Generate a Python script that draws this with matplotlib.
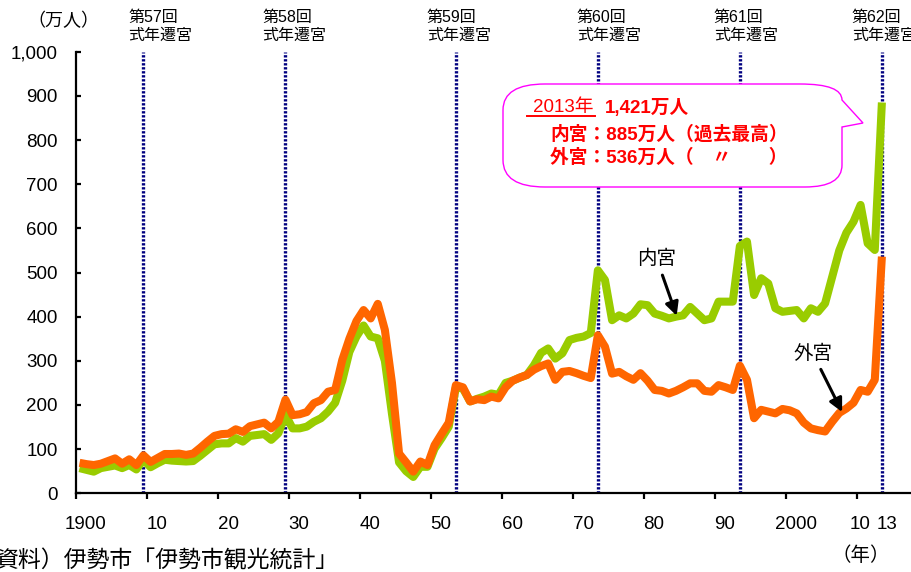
import numpy as np
import matplotlib
matplotlib.use('Agg')
import matplotlib.pyplot as plt
from matplotlib.path import Path
from matplotlib.patches import PathPatch
from matplotlib.lines import Line2D

plt.rcParams['font.family'] = ['Liberation Sans', 'Noto Sans CJK JP']

# visitors per year (万人)
years = np.arange(1900, 2014)
naiku = [57, 53, 49, 57, 60, 63, 57, 64, 54, 76,
         59, 68, 76, 74, 73, 72, 73, 85, 98, 111,
         113, 113, 125, 117, 130, 132, 134, 121, 136, 178,
         147, 147, 151, 162, 170, 185, 205, 255, 320, 355,
         380, 355, 351, 300, 180, 70, 50, 37, 60, 60,
         101, 125, 151, 240, 237, 208, 214, 219, 226, 223,
         250, 255, 262, 268, 290, 318, 328, 305, 317, 347,
         352, 355, 363, 505, 483, 392, 403, 396, 407, 428,
         426, 407, 402, 396, 400, 403, 422, 407, 392, 396,
         434, 434, 434, 560, 570, 449, 487, 475, 419, 411,
         413, 415, 396, 419, 411, 430, 490, 550, 590, 615,
         653, 566, 551, 885]
geku = [69, 66, 64, 67, 73, 79, 67, 77, 64, 86,
        71, 80, 89, 89, 90, 87, 90, 103, 117, 130,
        134, 135, 145, 139, 152, 156, 160, 147, 162, 212,
        177, 179, 184, 204, 211, 230, 234, 302, 350, 390,
        415, 396, 429, 370, 250, 90, 70, 49, 72, 64,
        109, 135, 160, 245, 240, 208, 213, 211, 219, 215,
        240, 255, 262, 268, 280, 288, 294, 257, 275, 277,
        272, 266, 261, 358, 332, 271, 275, 265, 257, 272,
        255, 234, 232, 226, 232, 240, 249, 249, 232, 230,
        245, 240, 234, 289, 257, 170, 189, 185, 181, 191,
        188, 181, 160, 147, 143, 140, 162, 182, 192, 205,
        234, 230, 257, 536]

sengu_years = [1909, 1929, 1953, 1973, 1993, 2013]
sengu_labels = ['第57回', '第58回', '第59回', '第60回', '第61回', '第62回']
sengu_dx = [17, 9, 3, 11, 6, 2]

xtick_years = [1900, 1910, 1920, 1930, 1940, 1950, 1960, 1970, 1980, 1990, 2000, 2010, 2013]
xtick_text = ['1900', '10', '20', '30', '40', '50', '60', '70', '80', '90', '2000', '10', '13']
xtick_dx = [10, 10, 10, 10, 10, 10, 10, 10, 10, 10, 10, 3, 9]

W, H = 911, 572


def px(x, y):
    return (x / W, 1 - y / H)


fig = plt.figure(figsize=(W / 100, H / 100), dpi=100)
ax = fig.add_axes([76 / W, 78.7 / H, 835 / W, 441.6 / H])

ax.vlines([y + 0.5 for y in sengu_years], 0, 1000, colors='#000080',
          linestyles=(0, (0.7, 0.5)), linewidth=2.4, zorder=1)

ax.plot(years + 0.5, naiku, color='#99CC00', linewidth=5.8, solid_capstyle='butt', zorder=2)
ax.plot(years + 0.5, geku, color='#FF6600', linewidth=5.8, solid_capstyle='butt', zorder=3)

ax.set_xlim(1900, 2017.6)
ax.set_ylim(0, 1000)
for s in ['top', 'right']:
    ax.spines[s].set_visible(False)
for s in ['left', 'bottom']:
    ax.spines[s].set_linewidth(1.6)
    ax.spines[s].set_zorder(4)

ax.set_yticks(range(0, 1001, 100))
ax.set_yticklabels([f'{v:,}' for v in range(0, 1001, 100)], fontsize=13.5)
ax.tick_params(axis='y', direction='in', length=3.5, width=1.6, pad=13)

ax.set_xticks(xtick_years[:-1])
ax.set_xticklabels([])
ax.tick_params(axis='x', direction='out', length=4, width=1.6)
for yr, t, dx in zip(xtick_years, xtick_text, xtick_dx):
    ax.annotate(t, xy=(yr, 0), xycoords=('data', 'axes fraction'),
                xytext=(dx, -31), textcoords='offset pixels',
                ha='center', va='center', fontsize=13.5, annotation_clip=False)

# 式年遷宮 labels above the dotted lines
for yr, lab, dx in zip(sengu_years, sengu_labels, sengu_dx):
    ax.annotate(lab, xy=(yr + 0.5, H - 17), xycoords=('data', 'figure pixels'),
                xytext=(dx - 32, 0), textcoords='offset pixels',
                ha='left', va='center', fontsize=11.5, annotation_clip=False)
    ax.annotate('式年遷宮', xy=(yr + 0.5, H - 35), xycoords=('data', 'figure pixels'),
                xytext=(dx - 32, 0), textcoords='offset pixels',
                ha='left', va='center', fontsize=11.5, annotation_clip=False)

# arrows
ax.annotate('内宮', xy=(1984.6, 402), xytext=(1981.8, 530), fontsize=14,
            ha='center', va='center',
            arrowprops=dict(arrowstyle='-|>', color='black', lw=2.2,
                            mutation_scale=20, shrinkA=3, shrinkB=0))
ax.annotate('外宮', xy=(2007.9, 184), xytext=(2003.8, 316), fontsize=14,
            ha='center', va='center',
            arrowprops=dict(arrowstyle='-|>', color='black', lw=2.2,
                            mutation_scale=20, shrinkA=3, shrinkB=0))

# callout box
verts = [(503, 110), (503, 160), (503, 187), (545, 187), (805, 187),
         (842, 187), (842, 165), (842, 127), (863, 123), (842, 100),
         (842, 84), (800, 84), (545, 84), (503, 84), (503, 110), (503, 110)]
codes = [Path.MOVETO, Path.LINETO, Path.CURVE3, Path.CURVE3, Path.LINETO,
         Path.CURVE3, Path.CURVE3, Path.LINETO, Path.LINETO, Path.LINETO,
         Path.CURVE3, Path.CURVE3, Path.LINETO, Path.CURVE3, Path.CURVE3,
         Path.CLOSEPOLY]
box = PathPatch(Path([px(x, y) for x, y in verts], codes), transform=fig.transFigure,
                facecolor='white', edgecolor='#FF00FF', linewidth=1.0, zorder=5)
fig.add_artist(box)

red = '#FF0000'
fig.text(*px(533, 108), '2013年', color=red, fontsize=13.5, va='center', zorder=6)
fig.add_artist(Line2D([527 / W, 595 / W], [1 - 116 / H] * 2, color=red, lw=1.4, zorder=6))
fig.text(*px(605, 108), '1,421万人', color=red, fontsize=13.5, fontweight='bold', va='center', zorder=6)
fig.text(*px(550, 135), '内宮：885万人（過去最高）', color=red, fontsize=13.5, fontweight='bold',
         va='center', zorder=6)
fig.text(*px(550, 158), '外宮：536万人（　〃　　）', color=red, fontsize=13.5, fontweight='bold',
         va='center', zorder=6)

fig.text(*px(63, 21), '（万人）', fontsize=13, ha='center', va='center')
fig.text(*px(861, 556), '（年）', fontsize=14, ha='center', va='center')
fig.text(*px(-4, 561), '資料）伊勢市「伊勢市観光統計」', fontsize=16.5, ha='left', va='center')

fig.savefig('out.png', dpi=100)
